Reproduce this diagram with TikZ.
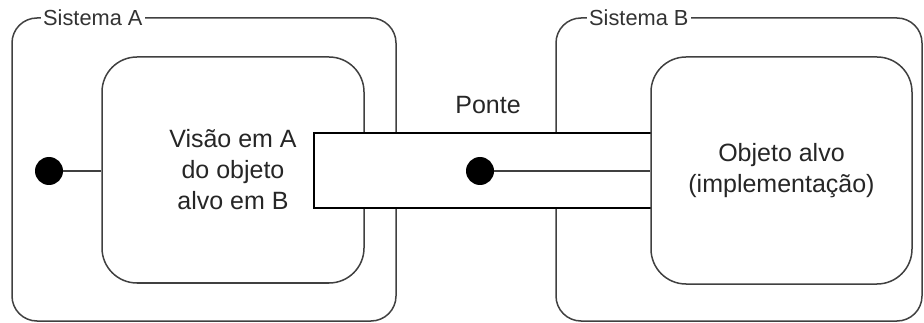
\documentclass[tikz,border=0pt]{standalone}
\usepackage{fontspec}
\setmainfont{Liberation Sans}
\begin{document}
\begin{tikzpicture}[x=1pt,y=-1pt,
  sysbox/.style={draw=black!75, line width=1.5pt, rounded corners=25pt, minimum width=#1, inner sep=0pt, minimum height=303pt},
  objbox/.style={draw=black!75, line width=1.5pt, rounded corners=35pt, fill=white, inner sep=0pt, align=center, font=\fontsize{25}{31}\selectfont},
  syslabel/.style={anchor=west, fill=white, inner sep=2pt, font=\fontsize{21.8}{24}\selectfont, text=black!80},
  bridgebox/.style={draw=black, line width=1.5pt, fill=white, inner sep=0pt, minimum width=338pt, minimum height=75pt},
  port/.style={circle, fill=black, inner sep=0pt, minimum size=28pt},
  link/.style={draw=black!75, line width=1.5pt}]
\useasboundingbox (0,0) rectangle (924,323);

% the two systems
\node[sysbox=384pt] (sysA) at (204,169.5) {};
\node[sysbox=366pt] (sysB) at (739,169.5) {};
\node[syslabel] (labA) at (41,18) {Sistema A};
\node[syslabel] (labB) at (587,18) {Sistema B};

% object view in A
\node[objbox, minimum width=262pt, minimum height=226pt] (viewA) at (233,170) {};

% bridge between the systems
\node[bridgebox] (bridge) at (483,170.5) {};
\node[font=\fontsize{25}{30}\selectfont, text=black!85] (ponte) at (488,105) {Ponte};

% text of the view, over the bridge box
\node[align=center, font=\fontsize{25}{31}\selectfont, text=black!85] (viewtxt) at (233,170) {Visão em A\\do objeto\\alvo em B};

% target object in B
\node[objbox, minimum width=261pt, minimum height=227pt, text=black!85] (target) at (781.5,170.5) {Objeto alvo\\(implementação)};

% ports and their links
\node[port] (portA) at (49,171) {};
\node[port] (portB) at (480,171) {};
\draw[link] (portA) -- (portA -| viewA.west);
\draw[link] (portB) -- (portB -| target.west);
\end{tikzpicture}
\end{document}
